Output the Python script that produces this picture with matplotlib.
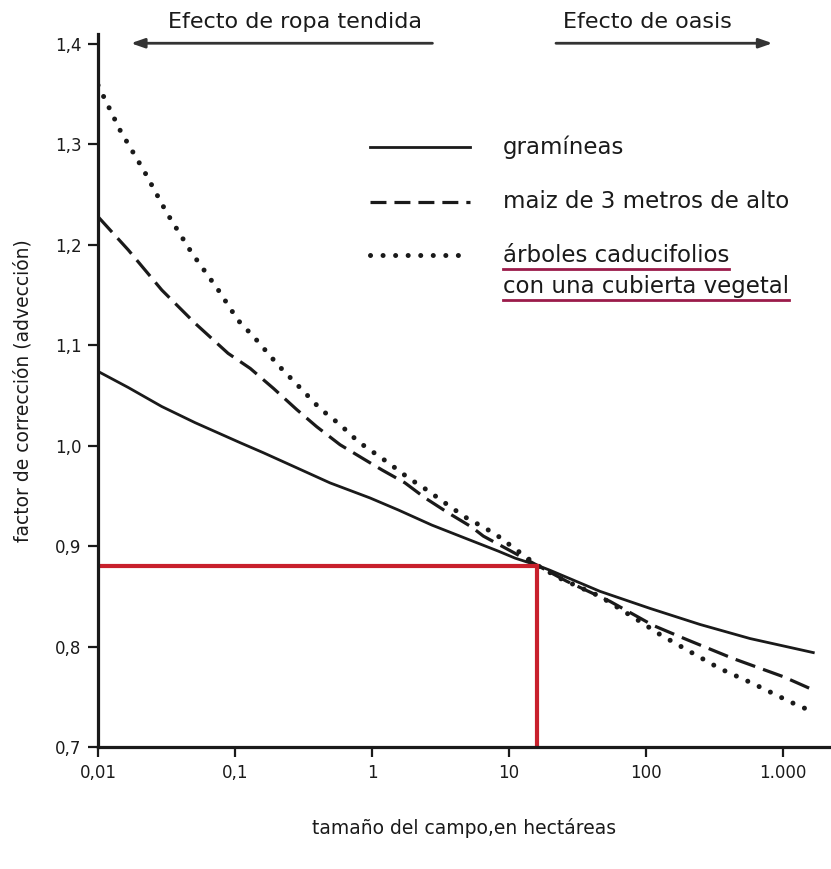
import matplotlib.pyplot as plt
from matplotlib.lines import Line2D

# -----------------------------
# Data
# -----------------------------
# gramíneas (solid)
gram_x = [0.01, 0.0166, 0.0292, 0.051, 0.109, 0.161, 0.282, 0.493, 0.966,
          1.556, 2.73, 4.77, 8.36, 11.1, 16, 19.9, 46.1, 107, 248, 574, 1663]
gram_y = [1.074, 1.058, 1.039, 1.023, 1.003, 0.993, 0.978, 0.963, 0.948,
          0.936, 0.921, 0.908, 0.895, 0.888, 0.881, 0.876, 0.855, 0.838,
          0.822, 0.808, 0.794]

# maiz de 3 metros (dashed)
maiz_x = [0.01, 0.0166, 0.0292, 0.051, 0.0889, 0.129, 0.191, 0.282, 0.394,
          0.584, 0.864, 1.178, 1.74, 2.44, 3.61, 5.34, 6.49, 16, 26.4, 54.6,
          113, 198, 434, 1005, 1714]
maiz_y = [1.228, 1.195, 1.155, 1.122, 1.092, 1.077, 1.057, 1.036, 1.019,
          1.001, 0.987, 0.976, 0.963, 0.948, 0.933, 0.919, 0.910, 0.881,
          0.865, 0.845, 0.821, 0.807, 0.788, 0.770, 0.756]

# árboles caducifolios (dotted)
arb_x = [0.01, 0.0145, 0.022, 0.0317, 0.0483, 0.0755, 0.105, 0.14, 0.207,
         0.307, 0.417, 0.584, 0.794, 1.315, 1.84, 2.51, 3.41, 4.77, 6.68,
         8.13, 16, 23.5, 46.1, 90.4, 126.5, 209, 347, 607, 1125, 1714]
arb_y = [1.359, 1.314, 1.272, 1.232, 1.192, 1.155, 1.125, 1.107, 1.080,
         1.056, 1.037, 1.021, 1.004, 0.983, 0.968, 0.956, 0.943, 0.929,
         0.918, 0.911, 0.881, 0.868, 0.850, 0.825, 0.812, 0.795, 0.778,
         0.763, 0.745, 0.734]

x_ticks = [0.01, 0.1, 1, 10, 100, 1000]
x_tick_labels = ["0,01", "0,1", "1", "10", "100", "1.000"]
y_ticks = [0.7, 0.8, 0.9, 1.0, 1.1, 1.2, 1.3, 1.4]
y_tick_labels = ["0,7", "0,8", "0,9", "1,0", "1,1", "1,2", "1,3", "1,4"]

# red guide: field size and its correction factor
guia_x = 16
guia_y = 0.88

serie_labels = ["gramíneas", "maiz de 3 metros de alto",
                "árboles caducifolios\ncon una cubierta vegetal"]

ROJO = "#c8202c"
SUBRAYADO = "#9b1b4a"
TINTA = "#1a1a1a"

fig = plt.figure(figsize=(8.31, 8.69), dpi=100)
ax = fig.add_axes([0.118, 0.1404, 0.882, 0.8205])

dash_style = (0, (6.5, 2.6))
dot_style = (0, (0.01, 2.5))

ax.plot(gram_x, gram_y, color=TINTA, lw=2.0)
ax.plot(maiz_x, maiz_y, color=TINTA, lw=2.3, linestyle=dash_style)
ax.plot(arb_x, arb_y, color=TINTA, lw=3.6, linestyle=dot_style,
        dash_capstyle="round")

# red guide lines
ax.plot([gram_x[0], guia_x], [guia_y, guia_y], color=ROJO, lw=3)
ax.plot([guia_x, guia_x], [0.7, guia_y], color=ROJO, lw=3)

ax.set_xscale("log")
ax.set_xlim(0.01, 2240)
ax.set_ylim(0.7, 1.41)
ax.set_xticks(x_ticks)
ax.set_xticklabels(x_tick_labels)
ax.set_xticks([], minor=True)
ax.set_yticks(y_ticks)
ax.set_yticklabels(y_tick_labels)

for side in ["top", "right"]:
    ax.spines[side].set_visible(False)
for side in ["left", "bottom"]:
    ax.spines[side].set_linewidth(2.3)
    ax.spines[side].set_color(TINTA)

ax.tick_params(axis="both", direction="out", length=7, width=1.6,
               colors=TINTA, labelsize=12, pad=5)

ax.set_xlabel("tamaño del campo,en hectáreas", fontsize=13.5, labelpad=26,
              color=TINTA)
ax.set_ylabel("factor de corrección (advección)", fontsize=13.5, labelpad=16,
              color=TINTA)

# -----------------------------
# Manual legend
# -----------------------------
handle_styles = [dict(lw=2.0), dict(lw=2.3, linestyle=(0, (5, 2.5))),
                 dict(lw=3.6, linestyle=dot_style, dash_capstyle="round")]
rows_y = [0.8415, 0.7644, 0.690]
for y, style in zip(rows_y, handle_styles):
    ax.add_line(Line2D([0.371, 0.508], [y, y], transform=ax.transAxes,
                       color=TINTA, **style))

for y, label in zip(rows_y[:2], serie_labels[:2]):
    ax.text(0.5525, y, label, transform=ax.transAxes, fontsize=16.5,
            va="center", color=TINTA)

# last entry: two underlined lines
fig.canvas.draw()
renderer = fig.canvas.get_renderer()
line_gap = 0.0435
for i, part in enumerate(serie_labels[2].split("\n")):
    y = rows_y[2] - i * line_gap
    t = ax.text(0.5525, y, part, transform=ax.transAxes, fontsize=16.5,
                va="center", color=TINTA)
    box = t.get_window_extent(renderer).transformed(ax.transAxes.inverted())
    ax.add_line(Line2D([box.x0, box.x1], [box.y0 - 0.003] * 2,
                       transform=ax.transAxes, color=SUBRAYADO, lw=2))

# -----------------------------
# Arrows and effect labels
# -----------------------------
arrow_kw = dict(arrowstyle="-|>,head_length=0.8,head_width=0.28",
                color="#333333", lw=2)
ax.annotate("", xy=(0.041, 0.987), xytext=(0.46, 0.987),
            xycoords="axes fraction", arrowprops=arrow_kw, annotation_clip=False)
ax.annotate("", xy=(0.924, 0.987), xytext=(0.621, 0.987),
            xycoords="axes fraction", arrowprops=arrow_kw, annotation_clip=False)
ax.text(0.269, 1.017, "Efecto de ropa tendida", transform=ax.transAxes,
        fontsize=16, ha="center", va="center", color=TINTA)
ax.text(0.749, 1.017, "Efecto de oasis", transform=ax.transAxes,
        fontsize=16, ha="center", va="center", color=TINTA)

fig.savefig("out.png", dpi=100)
